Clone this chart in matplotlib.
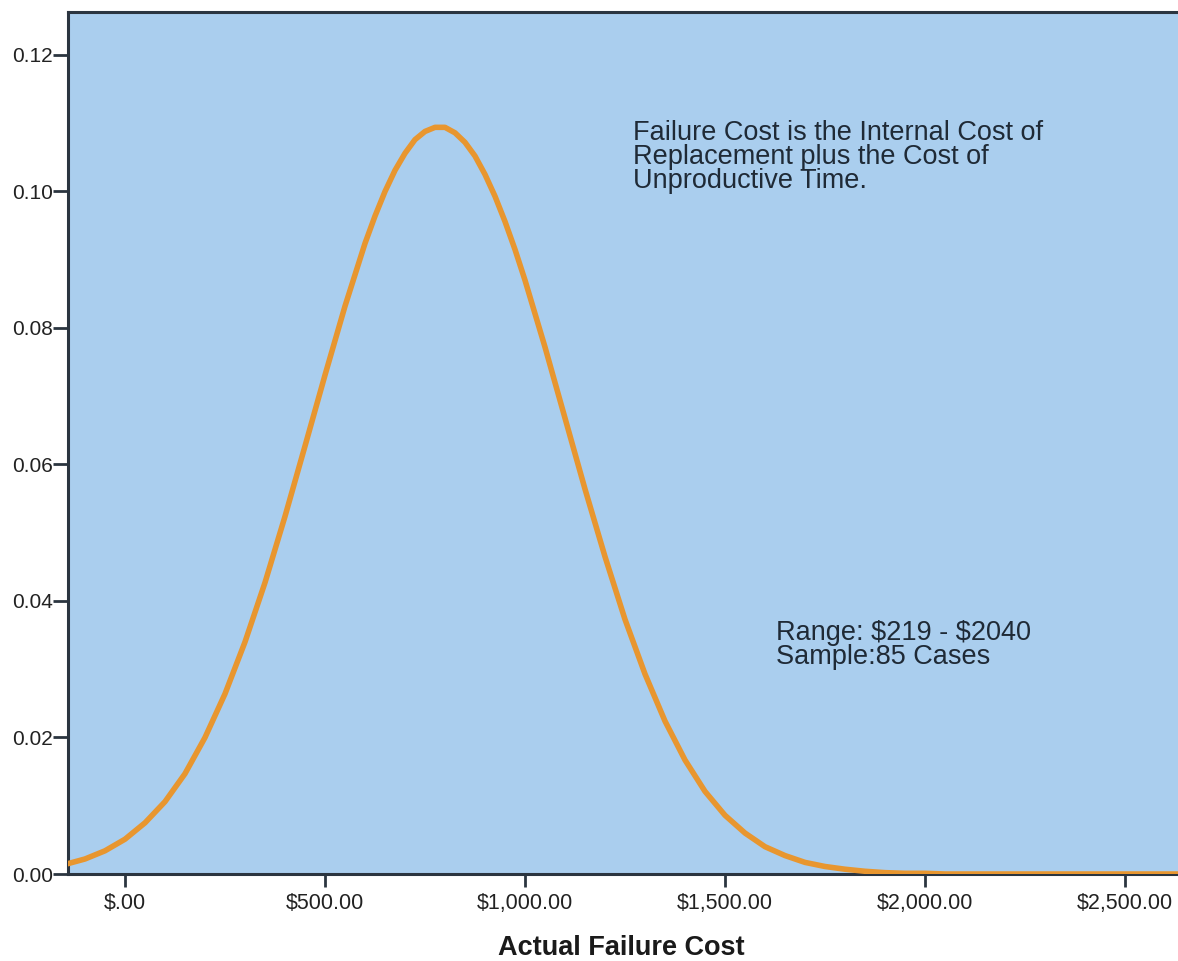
import numpy as np
import matplotlib
matplotlib.use('Agg')
import matplotlib.pyplot as plt

# normal curve (cost in $, density)
cost = [-150, -100, -50, 0, 50, 100, 150, 200, 250, 300, 350, 400, 450, 500,
        550, 600, 625, 650, 675, 700, 725, 750, 775, 800, 825, 850, 875, 900,
        925, 950, 975, 1000, 1050, 1100, 1150, 1200, 1250, 1300, 1350, 1400,
        1450, 1500, 1550, 1600, 1650, 1700, 1750, 1800, 1850, 1900, 1950,
        2000, 2050, 2100, 2200, 2300, 2400, 2500, 2600, 2650]
density = [0.0014, 0.0022, 0.0034, 0.0051, 0.0075, 0.0106, 0.0147, 0.0200,
           0.0264, 0.0340, 0.0427, 0.0524, 0.0627, 0.0731, 0.0832, 0.0924,
           0.0964, 0.1000, 0.1031, 0.1056, 0.1076, 0.1088, 0.1094, 0.1094,
           0.1086, 0.1072, 0.1052, 0.1025, 0.0993, 0.0956, 0.0915, 0.0870,
           0.0772, 0.0668, 0.0564, 0.0465, 0.0373, 0.0293, 0.0224, 0.0167,
           0.0121, 0.0086, 0.0060, 0.0040, 0.0027, 0.0017, 0.0011, 0.0007,
           0.0004, 0.0002, 0.0001, 0.0001, 0.0, 0.0, 0.0, 0.0, 0.0, 0.0,
           0.0, 0.0]

xticks = [0, 500, 1000, 1500, 2000, 2500]
xtick_labels = ['$.00', '$500.00', '$1,000.00', '$1,500.00', '$2,000.00', '$2,500.00']
yticks = [0.00, 0.02, 0.04, 0.06, 0.08, 0.10, 0.12]

note = 'Failure Cost is the Internal Cost of\nReplacement plus the Cost of\nUnproductive Time.'
range_note = 'Range: \\$219 - \\$2040\nSample:85 Cases'

plt.rcParams['font.family'] = ['Liberation Sans', 'DejaVu Sans']

W, H = 1178, 961
fig = plt.figure(figsize=(W / 100, H / 100), dpi=100)
ax = fig.add_axes([68 / W, (H - 874) / H, (W - 68) / W, (874 - 12) / H])
ax.set_facecolor('#AACEEE')

ax.plot(cost, density, color='#E8962F', lw=4, zorder=3, solid_joinstyle='round')

ax.set_xlim(-142.5, 2632.5)
ax.set_ylim(0, 0.1263)

ax.set_xticks(xticks)
ax.set_xticklabels(xtick_labels)
ax.set_yticks(yticks)
ax.set_yticklabels([f'{v:.2f}' for v in yticks])
ax.tick_params(axis='x', direction='out', length=9, width=2, color='#2B3540',
               labelsize=15.5, labelcolor='#222222', pad=5)
ax.tick_params(axis='y', direction='out', length=11, width=2, color='#2B3540',
               labelsize=15, labelcolor='#222222', pad=0)

for side in ['left', 'bottom', 'top']:
    ax.spines[side].set_color('#2B3540')
    ax.spines[side].set_linewidth(2.2)
ax.spines['right'].set_visible(False)

fig.text(633 / W, 1 - 120 / H, note, fontsize=19.5, color='#1F2A36',
         va='top', ha='left', linespacing=0.9)
fig.text(776 / W, 1 - 620 / H, range_note, fontsize=19.5, color='#1F2A36',
         va='top', ha='left', linespacing=0.9)

fig.text(621 / W, (H - 955) / H, 'Actual Failure Cost', ha='center',
         va='baseline', fontsize=19.5, fontweight='bold', color='#1A1A1A')

fig.savefig('out.png', dpi=100, facecolor='white')
